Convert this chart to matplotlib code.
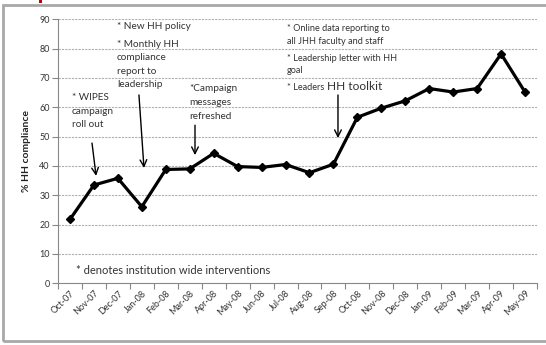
import matplotlib
matplotlib.use("Agg")
import matplotlib.pyplot as plt
from matplotlib.patches import Rectangle

plt.rcParams['font.family'] = ['Lato', 'DejaVu Sans']

months = ["Oct-07", "Nov-07", "Dec-07", "Jan-08", "Feb-08", "Mar-08", "Apr-08",
          "May-08", "Jun-08", "Jul-08", "Aug-08", "Sep-08", "Oct-08", "Nov-08",
          "Dec-08", "Jan-09", "Feb-09", "Mar-09", "Apr-09", "May-09"]
compliance = [21.8, 33.5, 35.8, 26.1, 38.8, 39.0, 44.3, 39.8, 39.5, 40.5,
              37.7, 40.6, 56.6, 59.7, 62.2, 66.4, 65.2, 66.4, 78.2, 65.2]
y_ticks = [0, 10, 20, 30, 40, 50, 60, 70, 80, 90]

W, H = 546, 345
fig = plt.figure(figsize=(W / 100, H / 100), dpi=100)
ax = fig.add_axes([58 / W, 1 - 283.3 / H, (537 - 58) / W, (283.3 - 19.3) / H])

x = list(range(len(compliance)))
ax.plot(x, compliance, color='black', lw=2.3, marker='D', ms=4.5,
        markerfacecolor='black', zorder=3)

ax.set_xlim(-0.5, len(compliance) - 0.5)
ax.set_ylim(0, 90)
ax.set_yticks(y_ticks)
ax.set_yticklabels([str(v) for v in y_ticks], fontsize=6.5, color='#333333')
ax.set_xticks(x)
ax.set_xticklabels(months, rotation=45, ha='right', va='top',
                   rotation_mode='anchor', fontsize=6.5, color='#333333')
ax.set_xticks([i - 0.5 for i in range(len(compliance) + 1)], minor=True)
ax.tick_params(axis='x', which='major', length=0, pad=4)
ax.tick_params(axis='x', which='minor', length=4, color='#888888', width=0.8)
ax.tick_params(axis='y', length=4, color='#888888', width=0.8, pad=2)

for v in y_ticks[1:]:
    ax.axhline(v, color='#b0b0b0', lw=0.8, ls=(0, (2, 1)), zorder=1)

for s in ['top', 'right']:
    ax.spines[s].set_visible(False)
for s in ['left', 'bottom']:
    ax.spines[s].set_color('#888888')
    ax.spines[s].set_linewidth(0.8)

ax.set_ylabel('% HH compliance', fontsize=7.5, fontweight='bold',
              color='#222222', labelpad=6)

txt = dict(fontsize=7.2, color='#333333', va='top', ha='left', linespacing=1.65)
small = dict(txt, fontsize=6.6, linespacing=1.55)
arrow = dict(arrowstyle='->', color='black', lw=1.0,
             shrinkA=0, shrinkB=0, mutation_scale=12)

ax.text(0.08, 64.8, "* WIPES\ncampaign\nroll out", **txt)
ax.annotate("", xy=(1.09, 36.6), xytext=(0.92, 47.8), arrowprops=arrow)

ax.text(1.96, 89.0, "* New HH policy", **txt)
ax.text(1.96, 83.0, "* Monthly HH\ncompliance\nreport to\nleadership", **txt)
ax.annotate("", xy=(3.09, 39.3), xytext=(2.88, 64.2), arrowprops=arrow)

ax.text(5.0, 67.8, "*Campaign\nmessages\nrefreshed", **txt)
ax.annotate("", xy=(5.22, 43.7), xytext=(5.22, 53.9), arrowprops=arrow)

ax.text(9.06, 88.5, "* Online data reporting to\nall JHH faculty and staff", **small)
ax.text(9.06, 78.3, "* Leadership letter with HH\ngoal", **small)
leaders = ax.text(9.06, 68.3, "* Leaders ", **small)
ax.annotate("HH toolkit", xy=(1, 0), xycoords=leaders, va='bottom', ha='left',
            fontsize=8.6, color='#333333')
ax.annotate("", xy=(11.19, 49.5), xytext=(11.19, 64.2), arrowprops=arrow)

ax.text(0.25, 4.5, "* denotes institution wide interventions", fontsize=8.0,
        color='#333333', va='center', ha='left')

# outer frame and title remnant
fig.patches.append(Rectangle((3 / W, 1 - 341 / H), 1.0, (341 - 5) / H,
                             transform=fig.transFigure, fill=False,
                             edgecolor='#a8a8a8', lw=2.0))
fig.patches.append(Rectangle((39 / W, 1 - 3 / H), 3 / W, 3 / H,
                             transform=fig.transFigure, color='#c00000', lw=0))

fig.savefig("out.png", dpi=100, facecolor='white')
